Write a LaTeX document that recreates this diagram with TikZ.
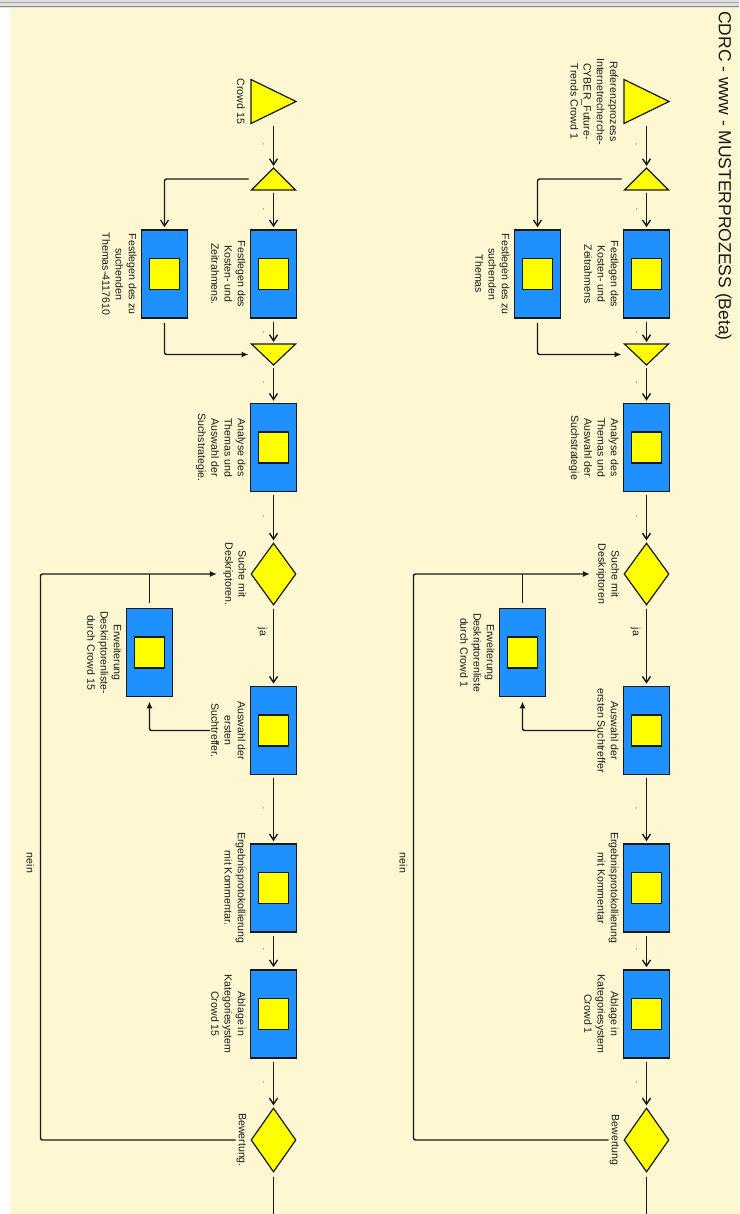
\documentclass[tikz,border=0pt]{standalone}
\usepackage{fontspec}
\setmainfont{Liberation Sans}
\usetikzlibrary{shapes.geometric,arrows.meta,calc}

\definecolor{bgc}{RGB}{253,248,210}
\definecolor{boxblue}{RGB}{30,144,255}
\definecolor{yel}{RGB}{255,255,0}
\definecolor{ink}{RGB}{25,25,25}

\newcommand\lblfont{\fontsize{10.6}{13.2}\selectfont}

\tikzset{
  lbl/.style={rotate=-90, anchor=north, align=center, font=\lblfont, inner sep=1pt, text=ink},
  tag/.style={rotate=-90, font=\lblfont, inner sep=0pt, text=ink},
  tick/.style={font=\fontsize{6}{6}\selectfont, inner sep=0pt, text=ink},
  framebox/.style={inner sep=0pt, outer sep=0pt},
  taskbox/.style={draw=ink, line width=1.6pt, fill=boxblue, minimum width=46pt, minimum height=88pt, inner sep=0pt},
  innersq/.style={draw=ink, line width=1.5pt, fill=yel, minimum width=30pt, minimum height=31pt, inner sep=0pt},
  tri/.style={draw=ink, line width=1.2pt, fill=yel, line join=miter},
  decision/.style={diamond, draw=ink, line width=1.2pt, fill=yel, minimum width=45pt, minimum height=62pt, inner sep=0pt},
  flow/.style={draw=ink, line width=1.4pt, rounded corners=2pt,
    -{Straight Barb[length=6pt,width=8pt,line width=1.4pt]}, shorten <=3pt, shorten >=2pt},
  link/.style={draw=ink, line width=1.4pt, rounded corners=2pt, -{Latex[length=7pt,width=6pt]}},
  plain/.style={draw=ink, line width=1.4pt, rounded corners=2pt},
}

% One process column: #1 = name prefix, #2 = x of the main flow line.
% The label texts are taken from \tStart ... \tBew.
\newcommand\flowcol[2]{%
  % start event
  \node[framebox, minimum width=45pt, minimum height=44pt] (#1st) at (#2,101.5) {};
  \draw[tri] (#1st.north west) -- (#1st.east) -- (#1st.south west) -- cycle;
  \node[lbl] (#1stL) at ($(#1st.west)+(-5,0)$) {\tStart};
  % split
  \node[framebox, minimum width=44pt, minimum height=22pt] (#1sp) at (#2,179) {};
  \draw[tri] (#1sp.south west) -- (#1sp.south east) -- (#1sp.north) -- cycle;
  % parallel tasks
  \node[taskbox] (#1kz) at (#2,274) {};
  \node[innersq] (#1kzI) at (#1kz) {};
  \node[lbl] (#1kzL) at ($(#1kz.west)+(-3,0)$) {\tKost};
  \node[taskbox] (#1th) at ({#2-109},274) {};
  \node[innersq] (#1thI) at (#1th) {};
  \node[lbl] (#1thL) at ($(#1th.west)+(-3,0)$) {\tThema};
  % merge
  \node[framebox, minimum width=44pt, minimum height=21pt] (#1mg) at (#2,354.5) {};
  \draw[tri] (#1mg.north west) -- (#1mg.north east) -- (#1mg.south) -- cycle;
  % analysis
  \node[taskbox] (#1an) at (#2,447.5) {};
  \node[innersq] (#1anI) at (#1an) {};
  \node[lbl] (#1anL) at ($(#1an.west)+(-3,0)$) {\tAnalyse};
  % search decision
  \node[decision] (#1su) at (#2,574) {};
  \node[lbl] (#1suL) at ($(#1su.west)+(-3,0)$) {\tSuche};
  % descriptor extension
  \node[taskbox] (#1ex) at ({#2-124},652.5) {};
  \node[innersq] (#1exI) at (#1ex) {};
  \node[lbl] (#1exL) at ($(#1ex.west)+(-3,0)$) {\tErw};
  % hits, protocol, filing
  \node[taskbox] (#1aw) at (#2,730.5) {};
  \node[innersq] (#1awI) at (#1aw) {};
  \node[lbl] (#1awL) at ($(#1aw.west)+(-3,0)$) {\tAusw};
  \node[taskbox] (#1er) at (#2,888) {};
  \node[innersq] (#1erI) at (#1er) {};
  \node[lbl] (#1erL) at ($(#1er.west)+(-3,0)$) {\tErg};
  \node[taskbox] (#1ab) at (#2,1014) {};
  \node[innersq] (#1abI) at (#1ab) {};
  \node[lbl] (#1abL) at ($(#1ab.west)+(-3,0)$) {\tAbl};
  % rating decision
  \node[decision, minimum height=64pt] (#1be) at (#2,1140) {};
  \node[lbl] (#1beL) at ($(#1be.west)+(-3,0)$) {\tBew};
  \coordinate (#1lp) at ({#2-233},1140);
  \coordinate (#1end) at (#2,1218);
  % connectors
  \draw[flow] (#1st.south) -- (#1sp.north);
  \draw[flow] (#1sp.south) -- (#1kz.north);
  \draw[flow] (#1sp.west) -| (#1th.north);
  \draw[link, shorten <=4pt, shorten >=3pt] (#1th.south) |- (#1mg.west);
  \draw[flow] (#1kz.south) -- (#1mg.north);
  \draw[flow] (#1mg.south) -- (#1an.north);
  \draw[flow] (#1an.south) -- (#1su.north);
  \draw[flow] (#1su.south) -- (#1aw.north);
  \draw[flow] (#1aw.south) -- (#1er.north);
  \draw[flow] (#1er.south) -- (#1ab.north);
  \draw[flow] (#1ab.south) -- (#1be.north);
  \draw[plain, shorten <=4pt] (#1be.south) -- (#1end);
  \draw[link, shorten >=5pt] (#1beL.south) -- (#1lp) |- (#1suL.south);
  \draw[plain, shorten <=5pt] (#1ex.north) -- (#1ex.north |- #1suL.south);
  \draw[link, shorten >=4pt] (#1awL.south) -| (#1ex.south);
  % edge labels
  \node[tag] (#1ja) at ({#2-11},632) {ja};
  \node[tag] (#1nein) at ({#2-243},863) {nein};
  \foreach \yy [count=\k] in {145,210,333,383,517,809,950,1083}
    \node[tick] (#1tk\k) at ({#2-10},\yy) {,};
}

\begin{document}
\begin{tikzpicture}[x=1pt,y=-1pt]
  % canvas
  \fill[bgc] (0,0) rectangle (738,1214);
  \fill[white!96!bgc] (0,8) rectangle (9,1214);
  \fill[black!12] (0,0) rectangle (738,8);
  \draw[black!35, line width=1pt] (0,2.5) -- (738,2.5);
  \draw[black!45, line width=1pt] (0,7) -- (738,7);
  \useasboundingbox (0,0) rectangle (738,1214);

  \node[rotate=-90, font=\fontsize{17.5}{20}\selectfont, text=ink, inner sep=0pt] (title)
    at (723,176) {CDRC - www - MUSTERPROZESS (Beta)};

  % first process
  \def\tStart{Referenzprozess\\Internetrecherche-\\CYBER\_Future-\\Trends Crowd 1}
  \def\tKost{Festlegen des\\Kosten- und\\Zeitrahmens}
  \def\tThema{Festlegen des zu\\suchenden\\Themas}
  \def\tAnalyse{Analyse des\\Themas und\\Auswahl der\\Suchstrategie}
  \def\tSuche{Suche mit\\Deskriptoren}
  \def\tErw{Erweiterung\\Deskriptorenliste\\durch Crowd 1}
  \def\tAusw{Auswahl der\\ersten Suchtreffer}
  \def\tErg{Ergebnisprotokollierung\\mit Kommentar}
  \def\tAbl{Ablage in\\Kategoriesystem\\Crowd 1}
  \def\tBew{Bewertung}
  \flowcol{r-}{646}

  % second process
  \def\tStart{Crowd 15}
  \def\tKost{Festlegen des\\Kosten- und\\Zeitrahmens.}
  \def\tThema{Festlegen des zu\\suchenden\\Themas-4117610}
  \def\tAnalyse{Analyse des\\Themas und\\Auswahl der\\Suchstrategie.}
  \def\tSuche{Suche mit\\Deskriptoren.}
  \def\tErw{Erweiterung\\Deskriptorenliste-\\durch Crowd 15}
  \def\tAusw{Auswahl der\\ersten\\Suchtreffer.}
  \def\tErg{Ergebnisprotokollierung\\mit Kommentar.}
  \def\tAbl{Ablage in\\Kategoriesystem\\Crowd 15}
  \def\tBew{Bewertung.}
  \flowcol{l-}{273}
\end{tikzpicture}
\end{document}
